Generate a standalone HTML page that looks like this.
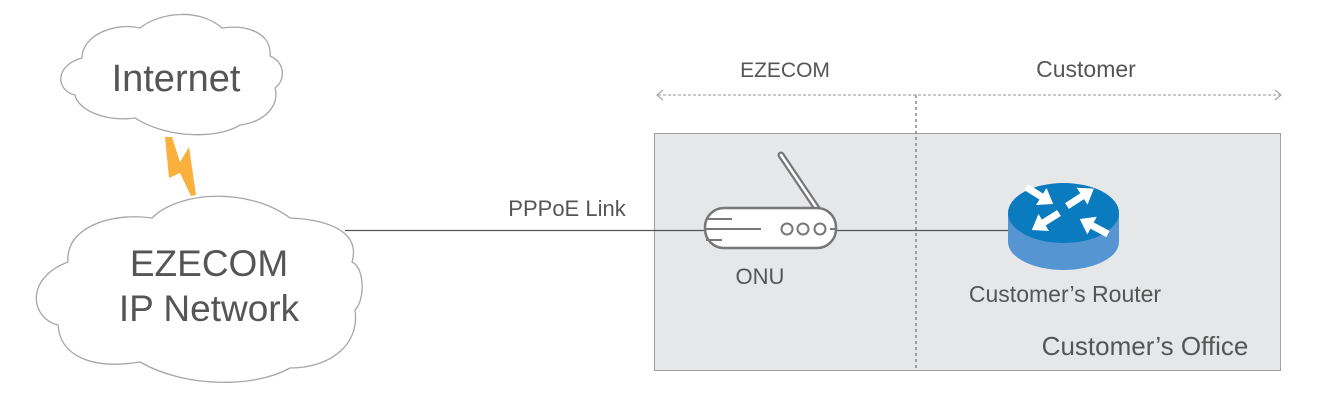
<!DOCTYPE html>
<html><head><meta charset="utf-8"><style>
html,body{margin:0;padding:0;background:#fff;}
svg{display:block;font-family:"Liberation Sans",sans-serif;}
</style></head><body>
<svg width="1327" height="407" viewBox="0 0 1327 407" xmlns="http://www.w3.org/2000/svg">
<defs>
<g id="arr"><rect x="0" y="-3.5" width="22" height="7" fill="#fff"/><polygon points="18,-10 32,0 18,10" fill="#fff"/></g>
</defs>
<!-- Office box -->
<rect x="654.5" y="133.5" width="626" height="237" fill="#e6e7e8" stroke="#a0a0a0" stroke-width="1"/>
<!-- dotted divider -->
<line x1="916" y1="95" x2="916" y2="370" stroke="#777" stroke-width="1.3" stroke-dasharray="3,3"/>
<line x1="658" y1="95" x2="1280" y2="95" stroke="#aaa" stroke-width="1.3" stroke-dasharray="3,2"/>
<polyline points="663,90 657,95 663,100" fill="none" stroke="#aaa" stroke-width="1.3"/>
<polyline points="1275,90 1281,95 1275,100" fill="none" stroke="#aaa" stroke-width="1.3"/>
<text x="785" y="77" font-size="21" fill="#555" text-anchor="middle">EZECOM</text>
<text x="1086" y="77" font-size="23" fill="#555" text-anchor="middle">Customer</text>

<!-- lightning -->
<polygon points="165,137 172,137 180,162 189,147 196,195 191,196 180,173 169,178" fill="#f9b03c"/>

<!-- Internet cloud -->
<path d="M140,28 C160,12 200,8 222,28 C250,24 272,35 270,56 C285,62 286,80 275,88 C280,105 265,122 240,125 C220,138 170,140 135,118 C105,122 78,110 75,95 C55,90 55,65 82,58 C82,35 115,22 140,28 Z" fill="#fff" stroke="#a6a6a6" stroke-width="1.3"/>
<text x="176" y="91" font-size="38" fill="#555" text-anchor="middle">Internet</text>

<!-- main line -->
<line x1="345" y1="230.5" x2="1010" y2="230.5" stroke="#555" stroke-width="1.3"/>
<text x="567" y="216" font-size="22" fill="#555" text-anchor="middle">PPPoE Link</text>

<!-- EZECOM cloud -->
<path d="M152,218 C180,190 250,188 290,218 C335,220 360,235 352,262 C365,268 365,300 355,310 C360,345 330,368 290,368 C255,388 185,388 140,362 C90,370 60,355 58,325 C30,318 25,278 68,262 C65,228 110,212 152,218 Z" fill="#fff" stroke="#a6a6a6" stroke-width="1.3"/>
<text x="209" y="276" font-size="37" fill="#555" text-anchor="middle">EZECOM</text>
<text x="209" y="321" font-size="37" fill="#555" text-anchor="middle">IP Network</text>

<!-- ONU -->
<line x1="781" y1="155" x2="818" y2="210" stroke="#777" stroke-width="7" stroke-linecap="round"/>
<line x1="781" y1="155" x2="818" y2="210" stroke="#fff" stroke-width="2.5" stroke-linecap="round"/>
<rect x="705" y="208" width="131" height="40" rx="19" fill="#fff" stroke="#777" stroke-width="2.5"/>
<line x1="706" y1="219" x2="732" y2="219" stroke="#777" stroke-width="2"/>
<line x1="706" y1="229" x2="761" y2="229" stroke="#777" stroke-width="2"/>
<line x1="706" y1="240" x2="722" y2="240" stroke="#777" stroke-width="2"/>
<circle cx="787" cy="229" r="5.5" fill="#fff" stroke="#777" stroke-width="2"/>
<circle cx="803" cy="229" r="5.5" fill="#fff" stroke="#777" stroke-width="2"/>
<circle cx="820" cy="229" r="5.5" fill="#fff" stroke="#777" stroke-width="2"/>
<line x1="830" y1="229" x2="836" y2="229" stroke="#777" stroke-width="2"/>
<text x="760" y="284" font-size="22" fill="#555" text-anchor="middle">ONU</text>

<!-- Router -->
<path d="M1008,213 L1008,242 A55.5,28 0 0 0 1119,242 L1119,213 Z" fill="#5596d2"/>
<ellipse cx="1063.5" cy="213" rx="55.5" ry="30" fill="#0a7bbf"/>
<use href="#arr" transform="translate(1026,187) rotate(32)"/>
<use href="#arr" transform="translate(1067,206) rotate(-33)"/>
<use href="#arr" transform="translate(1059,213) rotate(148)"/>
<use href="#arr" transform="translate(1108,234) rotate(208)"/>
<text x="1065" y="302" font-size="23" fill="#555" text-anchor="middle">Customer’s Router</text>
<text x="1145" y="355" font-size="26" fill="#555" text-anchor="middle">Customer’s Office</text>
</svg>
</body></html>
